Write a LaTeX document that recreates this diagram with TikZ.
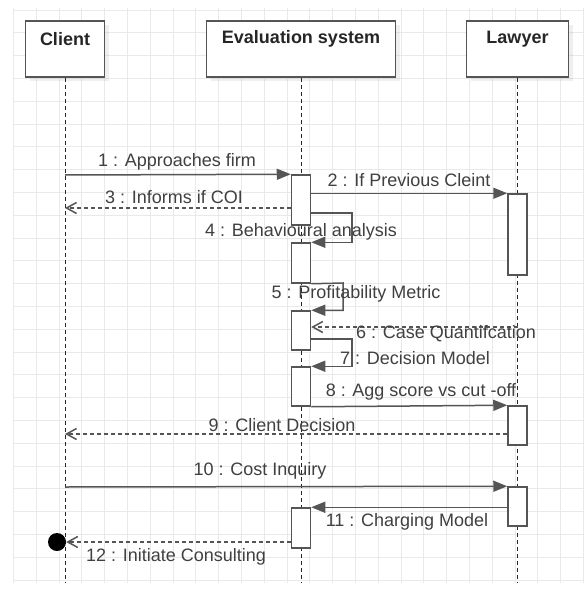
\documentclass[tikz,border=0pt]{standalone}
\usepackage{fontspec}
\setmainfont{Liberation Sans}
\usetikzlibrary{arrows.meta,shadows}
\definecolor{ln}{HTML}{555555}
\definecolor{tx}{HTML}{404040}
\definecolor{gridc}{HTML}{E9E9E9}
\begin{document}
\begin{tikzpicture}[x=1pt,y=-1pt,
  headbox/.style={rectangle, draw=ln, line width=1.5pt, fill=white, minimum height=56pt, inner sep=0pt,
    drop shadow={opacity=0.12, shadow xshift=4pt, shadow yshift=-4pt}},
  headlabel/.style={font=\fontsize{18}{20}\selectfont\bfseries, text=black!85, inner sep=0pt},
  lifeline/.style={draw=black!85, line width=1pt, dash pattern=on 4pt off 3pt},
  actbox/.style={rectangle, draw=ln, line width=1.5pt, fill=white, minimum width=19pt, inner sep=0pt},
  msg/.style={draw=ln, line width=1.5pt, -{Triangle[length=14pt,width=11pt]}},
  ret/.style={draw=ln, line width=1.5pt, dash pattern=on 4pt off 3pt, -{Straight Barb[length=10pt,width=11pt]}},
  msglabel/.style={font=\fontsize{18}{20}\selectfont, text=tx, inner sep=0pt},
]
\useasboundingbox[fill=white] (0,0) rectangle (584,602);
% grid
\foreach \k in {0,...,25} {
  \draw[gridc, line width=0.8pt] (13.3+22.8*\k,8) -- (13.3+22.8*\k,583);
  \draw[gridc, line width=0.8pt] (13,10+22.8*\k) -- (584,10+22.8*\k);
}
% heads
\node[headbox, minimum width=79pt] (client) at (65,49) {};
\node[headbox, minimum width=189pt] (evalsys) at (301,49) {};
\node[headbox, minimum width=102pt] (lawyer) at (517.5,49) {};
\node[headlabel] (clientlbl) at (65,39) {Client};
\node[headlabel] (evallbl) at (301,39) {Evaluation system};
\node[headlabel] (lawyerlbl) at (517.5,39) {Lawyer};
% lifelines
\coordinate (bottom) at (0,583);
\draw[lifeline] (client.south) -- (client.south |- bottom);
\draw[lifeline] (evalsys.south) -- (evalsys.south |- bottom);
\draw[lifeline] (lawyer.south) -- (lawyer.south |- bottom);
% activations
\node[actbox, minimum height=50pt] (a1) at (301,200) {};
\node[actbox, minimum height=40pt] (a2) at (301,263) {};
\node[actbox, minimum height=39pt] (a3) at (301,330.5) {};
\node[actbox, minimum height=39pt] (a4) at (301,386.5) {};
\node[actbox, minimum height=40pt] (a5) at (301,528) {};
\node[actbox, minimum height=81pt] (l1) at (517.5,234.5) {};
\node[actbox, minimum height=39pt] (l2) at (517.5,425.5) {};
\node[actbox, minimum height=39pt] (l3) at (517.5,506.5) {};
% helper coordinates
\coordinate (c1) at (65,175);
\coordinate (c3) at (65,208);
\coordinate (s4) at (352,213);
\coordinate (s5) at (343,283);
\coordinate (l6) at (517.5,327);
\coordinate (s7) at (352,339);
\coordinate (c9) at (65,434);
\coordinate (c10) at (65,487);
\node[circle, fill=black, minimum size=18pt, inner sep=0pt] (endpt) at (57,542) {};
% messages
\draw[msg] (c1) -- (a1.north west);
\draw[msg] (a1.east |- l1.north west) -- (l1.north west);
\draw[ret] (a1.west |- c3) -- (c3);
\draw[msg] (a1.east |- s4) -- (s4) |- (a2.north east);
\draw[msg] (a2.south east) -- (s5) |- (a3.north east);
\draw[ret] (l6) -- (a3.east |- l6);
\draw[msg] (a3.east |- s7) -- (s7) |- (a4.north east);
\draw[msg] (a4.south east) -- (l2.north west);
\draw[ret] (l2.west |- c9) -- (c9);
\draw[msg] (c10) -- (l3.north west);
\draw[msg] (l3.west |- a5.north) -- (a5.north east);
\draw[ret] (a5.west |- endpt) -- (endpt.east);
% labels
\node[msglabel] (t1) at (177,162) {1 : Approaches firm};
\node[msglabel] (t2) at (409,180) {2 : If Previous Cleint};
\node[msglabel] (t3) at (174,197) {3 : Informs if COI};
\node[msglabel] (t4) at (301,232) {4 : Behavioural analysis};
\node[msglabel] (t5) at (356,294) {5 : Profitability Metric};
\node[msglabel] (t6) at (446,334) {6 : Case Quantifcation};
\node[msglabel] (t7) at (415,358) {7 : Decision Model};
\node[msglabel] (t8) at (421,392) {8 : Agg score vs cut -off};
\node[msglabel] (t9) at (282,425) {9 : Client Decision};
\node[msglabel] (t10) at (260,471) {10 : Cost Inquiry};
\node[msglabel] (t11) at (407,522) {11 : Charging Model};
\node[msglabel] (t12) at (176,557) {12 : Initiate Consulting};
\end{tikzpicture}
\end{document}
